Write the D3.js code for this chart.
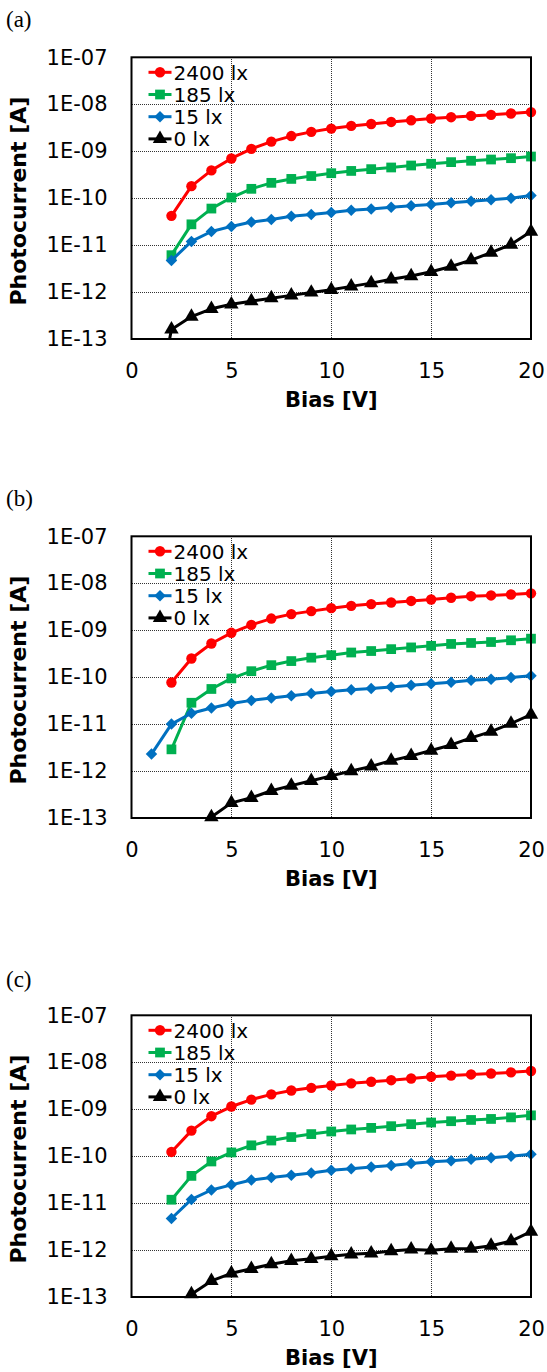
<!DOCTYPE html>
<html>
<head>
<meta charset="utf-8">
<script src="https://cdn.jsdelivr.net/npm/d3@7"></script>
<style>
  body { margin: 0; background: #fff; }
  svg { display: block; }
</style>
</head>
<body>
<svg id="chart"></svg>
<script>
// Bias points shared by every series (null = no point)
const bias = [1, 2, 3, 4, 5, 6, 7, 8, 9, 10, 11, 12, 13, 14, 15, 16, 17, 18, 19, 20];
const xTicks = [0, 5, 10, 15, 20];
const yTicks = [1e-13, 1e-12, 1e-11, 1e-10, 1e-9, 1e-8, 1e-7];
const seriesNames = ["2400 lx", "185 lx", "15 lx", "0 lx"];
const panelLabels = ["(a)", "(b)", "(c)"];

// (a)
const a2400 = [null, 4.2e-11, 1.8e-10, 3.9e-10, 7.0e-10, 1.12e-9, 1.6e-9, 2.1e-9, 2.58e-9, 3.03e-9, 3.46e-9, 3.8e-9, 4.2e-9, 4.55e-9, 4.96e-9, 5.3e-9, 5.65e-9, 5.95e-9, 6.35e-9, 6.8e-9];
const a185 = [null, 6.1e-12, 2.77e-11, 6.0e-11, 1.03e-10, 1.58e-10, 2.12e-10, 2.57e-10, 2.96e-10, 3.4e-10, 3.8e-10, 4.15e-10, 4.5e-10, 4.96e-10, 5.4e-10, 5.85e-10, 6.25e-10, 6.65e-10, 7.1e-10, 7.7e-10];
const a15 = [null, 4.7e-12, 1.2e-11, 1.95e-11, 2.5e-11, 3.1e-11, 3.5e-11, 4.1e-11, 4.5e-11, 4.96e-11, 5.5e-11, 5.9e-11, 6.4e-11, 6.9e-11, 7.3e-11, 7.96e-11, 8.6e-11, 9.2e-11, 1.0e-10, 1.14e-10];
const a0 = [1e-15, 1.6e-13, 3.0e-13, 4.4e-13, 5.5e-13, 6.4e-13, 7.4e-13, 8.5e-13, 9.8e-13, 1.12e-12, 1.32e-12, 1.55e-12, 1.87e-12, 2.2e-12, 2.7e-12, 3.5e-12, 4.8e-12, 6.9e-12, 1.03e-11, 1.95e-11];

// (b)
const b2400 = [null, 7.7e-11, 2.5e-10, 5.2e-10, 8.8e-10, 1.3e-9, 1.77e-9, 2.2e-9, 2.55e-9, 2.95e-9, 3.3e-9, 3.6e-9, 3.9e-9, 4.2e-9, 4.5e-9, 4.9e-9, 5.3e-9, 5.5e-9, 5.75e-9, 6.1e-9];
const b185 = [null, 2.9e-12, 2.85e-11, 5.6e-11, 9.4e-11, 1.34e-10, 1.8e-10, 2.2e-10, 2.6e-10, 2.94e-10, 3.35e-10, 3.6e-10, 3.95e-10, 4.3e-10, 4.65e-10, 5.1e-10, 5.35e-10, 5.6e-10, 6.1e-10, 6.6e-10];
const b15 = [2.3e-12, 1.0e-11, 1.7e-11, 2.2e-11, 2.75e-11, 3.2e-11, 3.6e-11, 4.0e-11, 4.5e-11, 4.96e-11, 5.4e-11, 5.75e-11, 6.2e-11, 6.75e-11, 7.2e-11, 7.8e-11, 8.6e-11, 9.0e-11, 9.8e-11, 1.07e-10];
const b0 = [null, null, null, 1.05e-13, 2.1e-13, 2.7e-13, 3.8e-13, 4.9e-13, 6.2e-13, 7.9e-13, 1.0e-12, 1.26e-12, 1.67e-12, 2.1e-12, 2.74e-12, 3.6e-12, 5.1e-12, 6.9e-12, 1.03e-11, 1.6e-11];

// (c)
const c2400 = [null, 1.23e-10, 3.5e-10, 7.1e-10, 1.14e-9, 1.6e-9, 2.07e-9, 2.5e-9, 2.85e-9, 3.2e-9, 3.55e-9, 3.85e-9, 4.15e-9, 4.5e-9, 4.9e-9, 5.2e-9, 5.5e-9, 5.75e-9, 6.1e-9, 6.5e-9];
const c185 = [null, 1.18e-11, 3.8e-11, 7.7e-11, 1.2e-10, 1.7e-10, 2.15e-10, 2.55e-10, 2.95e-10, 3.35e-10, 3.7e-10, 4.0e-10, 4.35e-10, 4.8e-10, 5.2e-10, 5.55e-10, 5.9e-10, 6.2e-10, 6.7e-10, 7.4e-10];
const c15 = [null, 4.7e-12, 1.2e-11, 1.9e-11, 2.45e-11, 3.1e-11, 3.5e-11, 3.9e-11, 4.4e-11, 5.0e-11, 5.4e-11, 5.85e-11, 6.3e-11, 7.0e-11, 7.6e-11, 8.0e-11, 8.6e-11, 9.2e-11, 1.0e-10, 1.1e-10];
const c0 = [null, null, 1.15e-13, 2.2e-13, 3.2e-13, 4.0e-13, 5.0e-13, 5.9e-13, 6.5e-13, 7.4e-13, 8.1e-13, 8.5e-13, 9.5e-13, 1.03e-12, 0.99e-12, 1.07e-12, 1.08e-12, 1.24e-12, 1.55e-12, 2.46e-12];

const panelSeries = [
  [a2400, a185, a15, a0],
  [b2400, b185, b15, b0],
  [c2400, c185, c15, c0],
];

let colors = ["#ff0000", "#00b050", "#0070c0", "#000000"];
// square rotated 45deg for the diamond, like the spreadsheet marker
let shapes = [d3.symbolCircle, d3.symbolSquare, d3.symbolSquare, d3.symbolTriangle];
let shapeSizes = [85, 95, 66, 90];
let shapeRot = [0, 0, 45, 0];

let totalW = 547, totalH = 1372;
let left = 131.5, plotW = 399.5, plotH = 281.7;
let firstTop = 57.3, step = 479;
let fontSans = "DejaVu Sans, Verdana, sans-serif";

let svg = d3.select("#chart").attr("width", totalW).attr("height", totalH);

let x = d3.scaleLinear().domain([0, 20]).range([0, plotW]);
let y = d3.scaleLog().domain([1e-13, 1e-7]).range([plotH, 0]);

let fmtE = (d) => "1E-" + String(-Math.round(Math.log10(d))).padStart(2, "0");

panelSeries.forEach((series, p) => {
  let top = firstTop + p * step;

  // panel letter
  svg.append("text")
    .attr("x", 6)
    .attr("y", top - 30 + (p === 2 ? 2 : 0))
    .style("font-family", "Liberation Serif, Times New Roman, serif")
    .style("font-size", "23px")
    .text(panelLabels[p]);

  let g = svg.append("g").attr("transform", `translate(${left},${top})`);

  g.append("clipPath").attr("id", "clip" + p)
    .append("rect").attr("width", plotW).attr("height", plotH);

  // grid (dotted, snapped to pixels)
  let snapY = (v) => Math.round(top + y(v)) + 0.5 - top;
  let snapX = (v) => Math.round(left + x(v)) + 0.5 - left;
  g.append("g")
    .selectAll("line")
    .data(yTicks.slice(1, -1))
    .enter().append("line")
    .attr("x1", 0).attr("x2", plotW)
    .attr("y1", snapY).attr("y2", snapY)
    .attr("stroke", "#333").attr("stroke-width", 1)
    .attr("stroke-dasharray", "1,1")
    .attr("shape-rendering", "crispEdges");
  g.append("g")
    .selectAll("line")
    .data(xTicks.slice(1, -1))
    .enter().append("line")
    .attr("y1", 0).attr("y2", plotH)
    .attr("x1", snapX).attr("x2", snapX)
    .attr("stroke", "#333").attr("stroke-width", 1)
    .attr("stroke-dasharray", "1,1")
    .attr("shape-rendering", "crispEdges");

  // axes (labels only, frame drawn separately)
  let yAxis = g.append("g")
    .call(d3.axisLeft(y).tickValues(yTicks).tickFormat(fmtE).tickSize(0).tickPadding(24));
  let xAxis = g.append("g")
    .attr("transform", `translate(0,${plotH})`)
    .call(d3.axisBottom(x).tickValues(xTicks).tickSize(0).tickPadding(24));
  [yAxis, xAxis].forEach((ax) => {
    ax.select(".domain").remove();
    ax.selectAll("text")
      .style("font-family", fontSans)
      .style("font-size", "21px")
      .attr("fill", "#000");
  });

  // series lines + markers
  series.forEach((vals, s) => {
    let pts = bias.map((b, i) => ({ x: b, v: vals[i] }));
    let line = d3.line()
      .defined((d) => d.v != null)
      .x((d) => x(d.x))
      .y((d) => y(d.v));
    g.append("path")
      .datum(pts)
      .attr("clip-path", `url(#clip${p})`)
      .attr("d", line)
      .attr("fill", "none")
      .attr("stroke", colors[s])
      .attr("stroke-width", 3)
      .attr("stroke-linejoin", "round");
    g.append("g")
      .selectAll("path")
      .data(pts.filter((d) => d.v != null && d.v >= 1e-13))
      .enter().append("path")
      .attr("transform", (d) => `translate(${x(d.x)},${y(d.v)}) rotate(${shapeRot[s]})`)
      .attr("d", d3.symbol().type(shapes[s]).size(shapeSizes[s]))
      .attr("fill", colors[s]);
  });

  // frame
  g.append("rect")
    .attr("width", plotW).attr("height", plotH)
    .attr("fill", "none").attr("stroke", "#000").attr("stroke-width", 2);

  // legend
  let legend = g.append("g")
    .selectAll("g")
    .data(seriesNames)
    .enter().append("g")
    .attr("transform", (d, i) => `translate(0,${15 + i * 22.2})`);
  legend.append("line")
    .attr("x1", 17).attr("x2", 40)
    .attr("stroke", (d, i) => colors[i]).attr("stroke-width", 3);
  legend.append("path")
    .attr("transform", (d, i) => `translate(28.5,0) rotate(${shapeRot[i]})`)
    .attr("d", (d, i) => d3.symbol().type(shapes[i]).size(shapeSizes[i])())
    .attr("fill", (d, i) => colors[i]);
  legend.append("text")
    .attr("x", 42)
    .attr("y", 0)
    .attr("dy", "0.36em")
    .style("font-family", fontSans)
    .style("font-size", "20px")
    .text((d) => d);

  // axis titles
  g.append("text")
    .attr("x", plotW / 2)
    .attr("y", plotH + 68)
    .attr("text-anchor", "middle")
    .style("font-family", fontSans)
    .style("font-size", "21px")
    .style("font-weight", "bold")
    .text("Bias [V]");
  g.append("text")
    .attr("transform", "rotate(-90)")
    .attr("x", -plotH / 2 - 3)
    .attr("y", 26 - left)
    .attr("text-anchor", "middle")
    .style("font-family", fontSans)
    .style("font-size", "22px")
    .style("font-weight", "bold")
    .text("Photocurrent [A]");
});
</script>
</body>
</html>
